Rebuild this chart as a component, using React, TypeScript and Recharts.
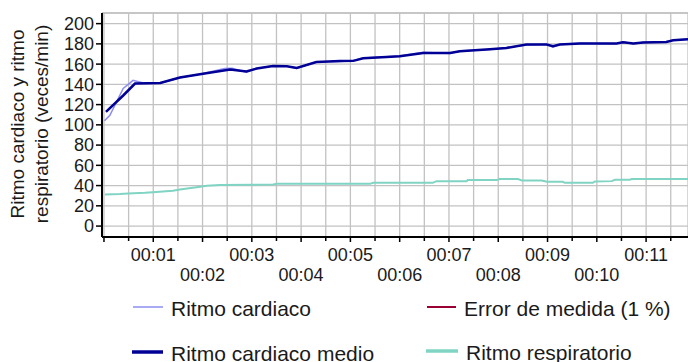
import {
  LineChart,
  Line,
  XAxis,
  YAxis,
  CartesianGrid,
  ReferenceLine,
  Label,
} from "recharts";

// heart rate as measured (light blue)
const hrTimes = [
  0.01, 0.12, 0.39, 0.59, 0.8, 1.14, 1.54, 2.01, 2.45, 2.6, 2.89, 3.1, 3.43,
  3.71, 3.91, 4.31, 4.79, 5.06, 5.26, 5.73, 6.0, 6.48, 7.02, 7.22, 7.83, 8.17,
  8.57, 8.98, 9.11, 9.25, 9.66, 10.4, 10.53, 10.74, 10.94, 11.41, 11.55, 11.85,
];
const hrValues = [
  104, 109.5, 135.9, 144, 141.4, 141, 146.5, 150.8, 155.6, 155.8, 152, 155.8,
  158.5, 158, 155.6, 162.3, 162.6, 163.6, 166, 167.3, 168, 171.6, 170.6, 173,
  174.4, 176.5, 179, 179.6, 176.8, 179.6, 180.6, 180, 182, 180, 181.6, 182,
  183.8, 184.6,
];

// mean heart rate (navy)
const meanTimes = [
  0.04, 0.39, 0.63, 1.14, 1.54, 2.01, 2.56, 2.89, 3.1, 3.43, 3.71, 3.91, 4.31,
  4.79, 5.06, 5.26, 5.73, 6.0, 6.48, 7.02, 7.22, 7.83, 8.17, 8.57, 8.98, 9.11,
  9.25, 9.66, 10.4, 10.53, 10.74, 10.94, 11.41, 11.55, 11.85,
];
const meanValues = [
  112.8, 129, 140.8, 141.4, 146.7, 150.5, 154.6, 152.8, 155.6, 158.2, 157.9,
  156.2, 162, 163, 163.2, 165.8, 167, 167.7, 171, 171, 172.7, 174.6, 176, 179.3,
  179.3, 177.6, 179.3, 180.3, 180.3, 181.5, 180.3, 181.3, 181.8, 183.5, 184.5,
];

// measurement error (1 %), two short stretches mostly hidden under the mean line
const errorTimes = [8.15, 8.22, 8.6, 9.08, 9.13];
const errorValues: (number | null)[] = [175.9, 176.4, null, 178.0, 177.8];

// respiratory rate (teal)
const respTimes = [
  0.02, 0.32, 0.49, 0.83, 0.99, 1.4, 1.54, 1.95, 2.09, 2.35, 3.43, 3.51, 5.4,
  5.46, 6.67, 6.75, 7.36, 7.38, 7.97, 8.03, 8.4, 8.48, 8.88, 8.99, 9.31, 9.35,
  9.92, 9.96, 10.3, 10.37, 10.67, 10.71, 11.85,
];
const respValues = [
  31.3, 31.6, 32.2, 32.9, 33.5, 34.8, 36.2, 38.8, 39.8, 40.5, 41.1, 41.7, 41.7,
  42.7, 42.7, 44.4, 44.4, 45.4, 45.4, 46.4, 46.4, 45.1, 45.1, 43.7, 43.7, 42.7,
  42.7, 44.1, 44.4, 45.7, 45.7, 46.4, 46.4,
];

const yTicks = [0, 20, 40, 60, 80, 100, 120, 140, 160, 180, 200];
const secondTicks = [1, 2, 3, 4, 5, 6, 7, 8, 9, 10, 11];
const secondLabels = [
  "00:01", "00:02", "00:03", "00:04", "00:05", "00:06",
  "00:07", "00:08", "00:09", "00:10", "00:11",
];
const halfSecondTicks = [
  0, 0.5, 1, 1.5, 2, 2.5, 3, 3.5, 4, 4.5, 5, 5.5, 6, 6.5, 7, 7.5, 8, 8.5, 9,
  9.5, 10, 10.5, 11, 11.5,
];

const FONT = '"Liberation Sans", Arial, Helvetica, sans-serif';
const TEXT = "#1a1a1a";
const LIGHT = "#8c8cf2";
const NAVY = "#000096";
const RED = "#990033";
const TEAL = "#80d4c4";

const toPoints = (times: number[], values: (number | null)[]) =>
  times.map((t, i) => ({ t, v: values[i] }));

function TimeTick(props: any) {
  const { x, y, payload } = props;
  const value = payload.value as number;
  const idx = secondTicks.indexOf(value);
  const whole = Number.isInteger(value);
  return (
    <g>
      <line x1={x} x2={x} y1={y} y2={y + (whole ? 5 : 4)} stroke="#000" strokeWidth={1.5} />
      {idx >= 0 && (
        <text
          x={x}
          y={y + (value % 2 === 1 ? 24 : 44)}
          textAnchor="middle"
          fontSize={18}
          fontFamily={FONT}
          fill={TEXT}
        >
          {secondLabels[idx]}
        </text>
      )}
    </g>
  );
}

function YTitle() {
  return (
    <g fontFamily={FONT} fontSize={19} fill={TEXT} textAnchor="middle">
      <text transform="translate(24,124) rotate(-90)">Ritmo cardiaco y ritmo</text>
      <text transform="translate(47.5,124) rotate(-90)">respiratorio (veces/min)</text>
    </g>
  );
}

function LegendOverlay() {
  const items = [
    { label: "Ritmo cardiaco", color: LIGHT, width: 1.5, x: 133, y: 307, w: 30 },
    { label: "Error de medida (1 %)", color: RED, width: 2, x: 427, y: 307, w: 29 },
    { label: "Ritmo cardiaco medio", color: NAVY, width: 3.5, x: 132, y: 352, w: 31 },
    { label: "Ritmo respiratorio", color: TEAL, width: 3.5, x: 426, y: 351, w: 32 },
  ];
  return (
    <svg
      width={688}
      height={362}
      style={{ position: "absolute", left: 0, top: 0, pointerEvents: "none" }}
    >
      {items.map((it) => (
        <g key={it.label}>
          <line x1={it.x} x2={it.x + it.w} y1={it.y} y2={it.y} stroke={it.color} strokeWidth={it.width} />
          <text
            x={it.x + it.w + 8}
            y={it.y + 9}
            fontSize={21}
            fontFamily={FONT}
            fill={TEXT}
          >
            {it.label}
          </text>
        </g>
      ))}
    </svg>
  );
}

export default function App() {
  return (
    <div style={{ position: "absolute", left: 0, top: 0, width: 688, height: 362, background: "#fff" }}>
      <LineChart width={688} height={362} margin={{ top: 13, right: 0, bottom: 124, left: 0 }}>
        <CartesianGrid stroke="#c2c2c2" strokeWidth={1.3} />
        <XAxis
          type="number"
          dataKey="t"
          domain={[-0.04, 11.85]}
          allowDataOverflow
          ticks={halfSecondTicks}
          interval={0}
          tick={<TimeTick />}
          tickLine={false}
          tickSize={0}
          tickMargin={0}
          height={1}
          axisLine={{ stroke: "#000", strokeWidth: 2 }}
        />
        <YAxis
          type="number"
          dataKey="v"
          domain={[-10.8, 210.5]}
          allowDataOverflow
          ticks={yTicks}
          interval={0}
          width={102}
          tickSize={6}
          tickMargin={2}
          tickLine={{ stroke: "#000", strokeWidth: 1.5 }}
          axisLine={{ stroke: "#000", strokeWidth: 2 }}
          tick={{ fontSize: 18, fontFamily: FONT, fill: TEXT }}
        >
          <Label content={<YTitle />} />
        </YAxis>
        <ReferenceLine y={210.5} stroke="#c2c2c2" strokeWidth={1.5} />
        <Line
          data={toPoints(respTimes, respValues)}
          dataKey="v"
          type="linear"
          stroke={TEAL}
          strokeWidth={2}
          dot={false}
          isAnimationActive={false}
        />
        <Line
          data={toPoints(hrTimes, hrValues)}
          dataKey="v"
          type="linear"
          stroke={LIGHT}
          strokeWidth={1.5}
          dot={false}
          isAnimationActive={false}
        />
        <Line
          data={toPoints(errorTimes, errorValues)}
          dataKey="v"
          type="linear"
          stroke={RED}
          strokeWidth={1.5}
          dot={false}
          connectNulls={false}
          isAnimationActive={false}
        />
        <Line
          data={toPoints(meanTimes, meanValues)}
          dataKey="v"
          type="linear"
          stroke={NAVY}
          strokeWidth={2.5}
          dot={false}
          isAnimationActive={false}
        />
      </LineChart>
      <LegendOverlay />
    </div>
  );
}
